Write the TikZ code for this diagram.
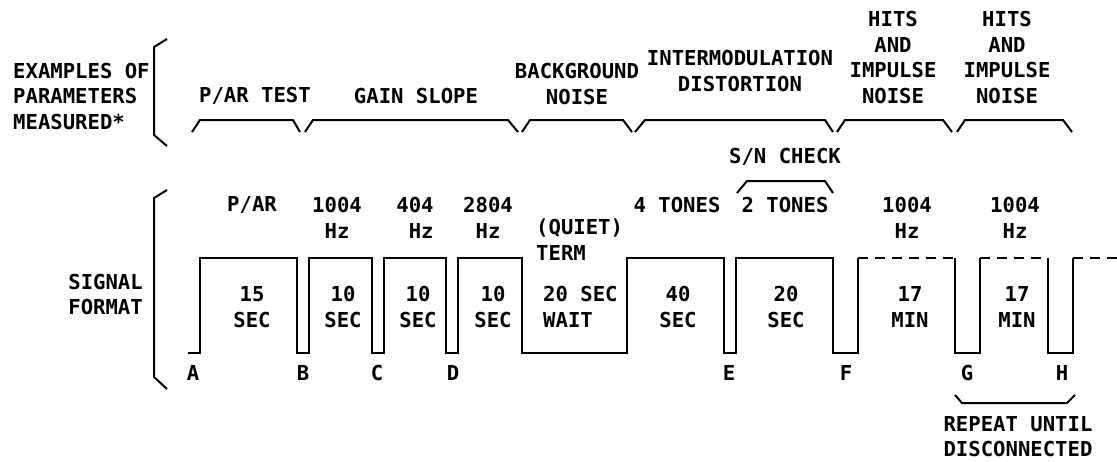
\documentclass[tikz,border=0pt]{standalone}
\usepackage{fontspec}
\newfontfamily\plotfont{DejaVu Sans Mono}
\usetikzlibrary{positioning}

\begin{document}
\begin{tikzpicture}[
    x=1pt, y=-1pt,
    lbl/.style={font=\plotfont\bfseries\fontsize{20.6}{25.5}\selectfont, align=center, inner sep=0pt},
    wave/.style={line width=2.4pt, line join=miter},
    brace/.style={line width=2pt}
]
\useasboundingbox (0,0) rectangle (1117,461);

% left side labels and brackets
\node[lbl, anchor=west, align=left] (examples) at (13,96) {EXAMPLES OF\\PARAMETERS\\MEASURED*};
\node[lbl, anchor=east, align=right] (signal) at (143,294.5) {SIGNAL\\FORMAT};
\draw[brace] (167,39) -- (154,47) -- (154,135) -- (167,146);
\draw[brace] (167,190) -- (154,198) -- (154,377) -- (167,389);

% parameters measured
\node[lbl] (partest) at (255,96) {P/AR TEST};
\node[lbl] (gainslope) at (416,96) {GAIN SLOPE};
\node[lbl] (bgnoise) at (577,84) {BACKGROUND\\NOISE};
\node[lbl] (imd) at (740,71) {INTERMODULATION\\DISTORTION};
\node[lbl] (hitsa) at (893,57.5) {HITS\\AND\\IMPULSE\\NOISE};
\node[lbl] (hitsb) at (1007,57.5) {HITS\\AND\\IMPULSE\\NOISE};

\draw[brace] (192,132) -- (200,120) -- (293,120) -- (300,132);
\draw[brace] (305,132) -- (313,120) -- (508,120) -- (518,132);
\draw[brace] (522,132) -- (530,120) -- (623,120) -- (632,132);
\draw[brace] (635,132) -- (645,120) -- (825,120) -- (833,132);
\draw[brace] (837,132) -- (845,120) -- (943,120) -- (952,132);
\draw[brace] (957,132) -- (965,120) -- (1063,120) -- (1072,132);

% tones above the signal
\node[lbl] (sncheck) at (785,157) {S/N CHECK};
\draw[brace] (737,193) -- (747,181) -- (825,181) -- (833,193);
\node[lbl] (par) at (252,205) {P/AR};
\node[lbl] (tone1) at (337,218) {1004\\Hz};
\node[lbl, align=right] (tone2) at (415,218) {404\\Hz};
\node[lbl] (tone3) at (488,218) {2804\\Hz};
\node[lbl, anchor=west, align=left] (quiet) at (536,239.5) {(QUIET)\\TERM};
\node[lbl] (fourtones) at (677,205) {4 TONES};
\node[lbl] (twotones) at (785,205) {2 TONES};
\node[lbl] (tone4) at (907,218) {1004\\Hz};
\node[lbl] (tone5) at (1015,218) {1004\\Hz};

% signal format
\draw[wave] (188,353) -- (200,353) -- (200,258) -- (297,258) -- (297,353) -- (309,353)
    -- (309,258) -- (372,258) -- (372,353) -- (384,353) -- (384,258) -- (446,258)
    -- (446,353) -- (458,353) -- (458,258) -- (522,258) -- (522,353) -- (627,353)
    -- (627,258) -- (724,258) -- (724,353) -- (736,353) -- (736,258) -- (833,258)
    -- (833,353) -- (858,353) -- (858,258);
\draw[wave, dash pattern=on 10pt off 7pt] (858,258) -- (955,258);
\draw[wave] (955,258) -- (955,353) -- (980,353) -- (980,258);
\draw[wave, dash pattern=on 10pt off 7pt] (980,258) -- (1048,258);
\draw[wave] (1048,258) -- (1048,353) -- (1073,353) -- (1073,258);
\draw[wave, dash pattern=on 10pt off 7pt] (1073,258) -- (1117,258);

\node[lbl] (t15) at (252,307) {15\\SEC};
\node[lbl] (t10a) at (343,307) {10\\SEC};
\node[lbl] (t10b) at (418,307) {10\\SEC};
\node[lbl] (t10c) at (493,307) {10\\SEC};
\node[lbl, anchor=west, align=left] (wait) at (543,307) {20 SEC\\WAIT};
\node[lbl] (t40) at (678,307) {40\\SEC};
\node[lbl] (t20) at (786,307) {20\\SEC};
\node[lbl] (t17a) at (910,307) {17\\MIN};
\node[lbl] (t17b) at (1017,307) {17\\MIN};

% points
\node[lbl] (ptA) at (193,373) {A};
\node[lbl] (ptB) at (303,373) {B};
\node[lbl] (ptC) at (377,373) {C};
\node[lbl] (ptD) at (453,373) {D};
\node[lbl] (ptE) at (729,373) {E};
\node[lbl] (ptF) at (846,373) {F};
\node[lbl] (ptG) at (967,373) {G};
\node[lbl] (ptH) at (1062,373) {H};

\draw[brace] (955,395) -- (962,403) -- (1067,403) -- (1075,395);
\node[lbl] (repeat) at (1018,436.5) {REPEAT UNTIL\\DISCONNECTED};
\end{tikzpicture}
\end{document}
